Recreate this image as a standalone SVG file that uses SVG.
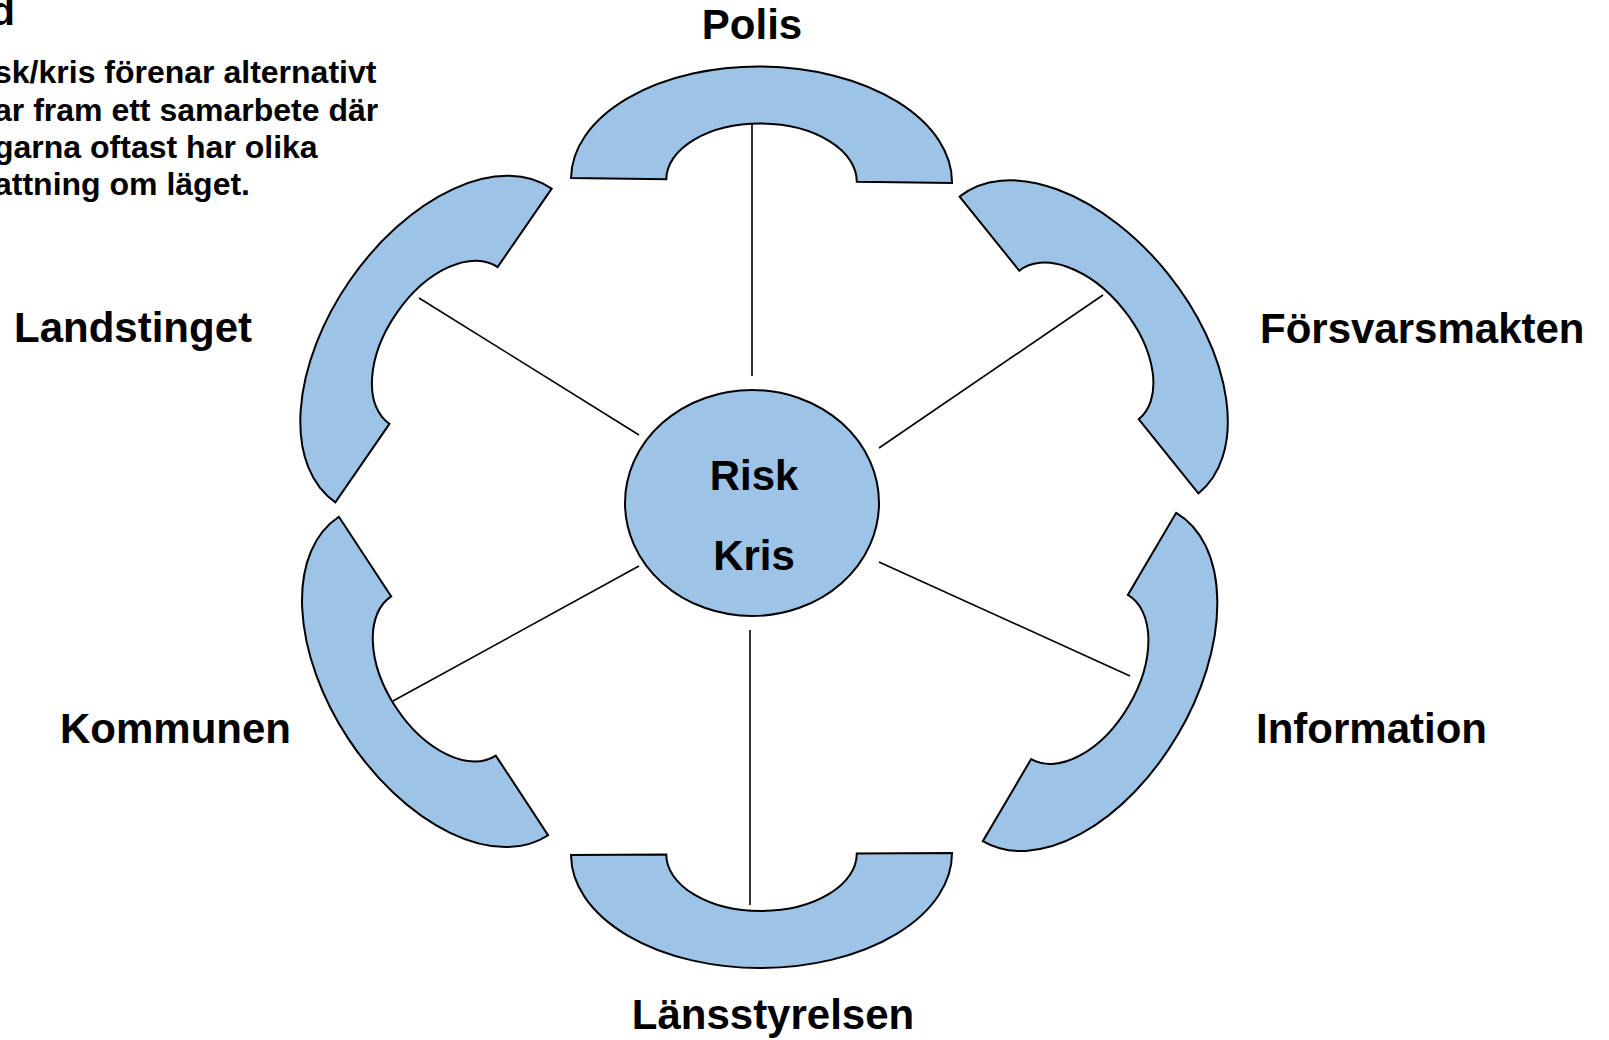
<svg xmlns="http://www.w3.org/2000/svg" xmlns:xlink="http://www.w3.org/1999/xlink" width="1609" height="1040" viewBox="0 0 1609 1040">
<style>
.band{fill:#9dc3e6;stroke:#000;stroke-width:2;stroke-linejoin:miter}
.hub{fill:#9dc3e6;stroke:#000;stroke-width:2}
.lbl{font-family:"Liberation Sans",Arial,sans-serif;font-weight:bold;font-size:42px;fill:#000}
.note{font-family:"Liberation Sans",Arial,sans-serif;font-weight:bold;font-size:32px;fill:#000}
.title{font-family:"Liberation Sans",Arial,sans-serif;font-weight:bold;font-size:40px;fill:#000}
.conn line{stroke:#000;stroke-width:1.6}
</style>
<defs>
<path id="arc" d="M-190.5,0 A190.5,114 0 0 1 190.5,0 L95.25,0 A95.25,57 0 0 0 -95.25,0 Z"/>
</defs>
<rect width="1609" height="1040" fill="#fff"/>
<g id="note">
<text class="title" x="15" y="25" text-anchor="end">d</text>
<text class="note" x="-6" y="83">sk/kris förenar alternativt</text>
<text class="note" x="-6" y="121">ar fram ett samarbete där</text>
<text class="note" x="-6" y="158">garna oftast har olika</text>
<text class="note" x="-6" y="195">attning om läget.</text>
</g>
<g id="connectors" class="conn">
<line x1="752" y1="124" x2="752" y2="376"/>
<line x1="1103" y1="295" x2="879" y2="448"/>
<line x1="1130" y1="676" x2="879" y2="562"/>
<line x1="750" y1="630" x2="750" y2="905"/>
<line x1="393" y1="701" x2="639" y2="566"/>
<line x1="419" y1="298" x2="639" y2="435"/>
</g>
<g id="polis">
<use xlink:href="#arc" class="band" transform="translate(761.5,180.5) rotate(0.75)"/>
<text class="lbl" x="752" y="39" text-anchor="middle">Polis</text>
</g>
<g id="forsvarsmakten">
<use xlink:href="#arc" class="band" transform="translate(1079,345) rotate(51.2)"/>
<text class="lbl" x="1260" y="343">Försvarsmakten</text>
</g>
<g id="information">
<use xlink:href="#arc" class="band" transform="translate(1079.5,677) rotate(120.5)"/>
<text class="lbl" x="1256" y="743">Information</text>
</g>
<g id="lansstyrelsen">
<use xlink:href="#arc" class="band" transform="translate(761.5,854) rotate(179.7)"/>
<text class="lbl" x="773" y="1029" text-anchor="middle">Länsstyrelsen</text>
</g>
<g id="kommunen">
<use xlink:href="#arc" class="band" transform="translate(443.5,676) rotate(-123.3)"/>
<text class="lbl" x="60" y="743">Kommunen</text>
</g>
<g id="landstinget">
<use xlink:href="#arc" class="band" transform="translate(443.5,345.5) rotate(-55.4)"/>
<text class="lbl" x="14" y="342">Landstinget</text>
</g>
<g id="risk-kris">
<ellipse class="hub" cx="752" cy="503" rx="127" ry="113"/>
<text class="lbl" x="754" y="490" text-anchor="middle">Risk</text>
<text class="lbl" x="754" y="570" text-anchor="middle">Kris</text>
</g>
</svg>
